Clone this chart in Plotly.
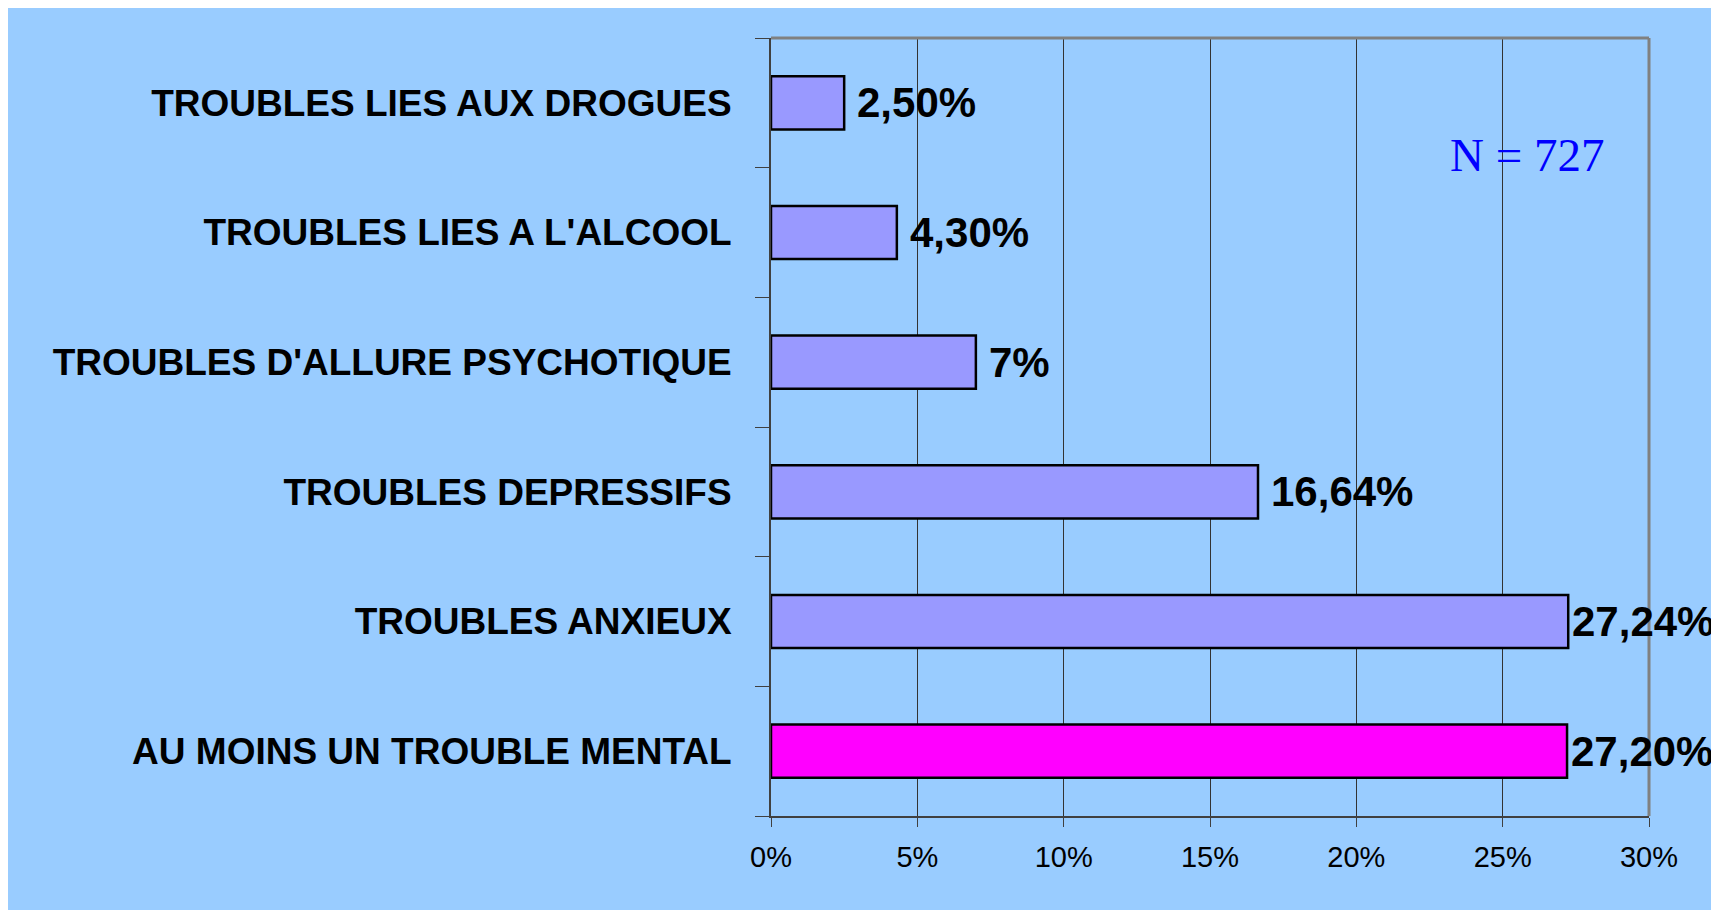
import plotly.graph_objects as go

categories = [
    "AU MOINS UN TROUBLE MENTAL",
    "TROUBLES ANXIEUX",
    "TROUBLES DEPRESSIFS",
    "TROUBLES D'ALLURE PSYCHOTIQUE",
    "TROUBLES LIES A L'ALCOOL",
    "TROUBLES LIES AUX DROGUES",
]
values = [27.20, 27.24, 16.64, 7.0, 4.30, 2.50]
value_labels = ["27,20%", "27,24%", "16,64%", "7%", "4,30%", "2,50%"]
bar_colors = ["#FF00FF", "#9999FF", "#9999FF", "#9999FF", "#9999FF", "#9999FF"]
x_ticks = [0, 5, 10, 15, 20, 25, 30]
x_tick_labels = ["0%", "5%", "10%", "15%", "20%", "25%", "30%"]
note_text = "N = 727"

BG = "#99CCFF"
W, H = 1707, 902
ML, MR, MT, MB = 763, 66, 30, 94

fig = go.Figure()
fig.add_trace(go.Bar(
    x=values, y=categories, orientation="h",
    marker=dict(color=bar_colors, line=dict(color="black", width=2.5)),
    width=0.41, hoverinfo="skip", cliponaxis=False,
))

for v, c, t in zip(values, categories, value_labels):
    # labels near the right edge are pulled in against the bar end so they fit
    shift = 2 if v > 25 else 11
    fig.add_annotation(
        x=v, y=c, text=f"<b>{t}</b>", showarrow=False,
        xanchor="left", yanchor="middle", xshift=shift,
        font=dict(family="Liberation Sans, Arial", size=42, color="black"),
    )

fig.add_annotation(
    x=0.861, y=0.85, xref="paper", yref="paper", text=note_text,
    showarrow=False, xanchor="center", yanchor="middle",
    font=dict(family="Liberation Serif, Times New Roman", size=47, color="#0000FF"),
)

# top and right frame lines
fig.add_shape(type="line", xref="paper", yref="paper", x0=0, x1=1, y0=1, y1=1,
              line=dict(color="#808080", width=3))
fig.add_shape(type="line", xref="paper", yref="paper", x0=1, x1=1, y0=0, y1=1,
              line=dict(color="#808080", width=3))

fig.update_layout(
    width=W, height=H,
    margin=dict(l=ML, r=MR, t=MT, b=MB, autoexpand=False),
    paper_bgcolor=BG, plot_bgcolor=BG,
    showlegend=False,
    bargap=0.59,
    font=dict(family="Liberation Sans, Arial", color="black"),
)
fig.update_xaxes(
    range=[0, 30], tickvals=x_ticks, ticktext=x_tick_labels,
    showgrid=True, gridcolor="#333333", gridwidth=1,
    showline=True, linecolor="#404040", linewidth=2,
    ticks="outside", ticklen=9, tickcolor="#404040", tickwidth=1,
    tickfont=dict(size=29, family="Liberation Sans, Arial"),
    ticklabelstandoff=5, zeroline=False, fixedrange=True,
)
fig.update_yaxes(
    categoryorder="array", categoryarray=categories,
    showgrid=False, showline=True, linecolor="#404040", linewidth=2,
    ticks="outside", ticklen=14, tickcolor="#404040", tickwidth=1,
    tickson="boundaries",
    tickfont=dict(size=37, family="Liberation Sans, Arial"),
    ticklabelstandoff=30, fixedrange=True,
)
fig.update_yaxes(tickprefix="<b>", ticksuffix="</b>")

fig.write_html("out.html", config={"displayModeBar": False})
